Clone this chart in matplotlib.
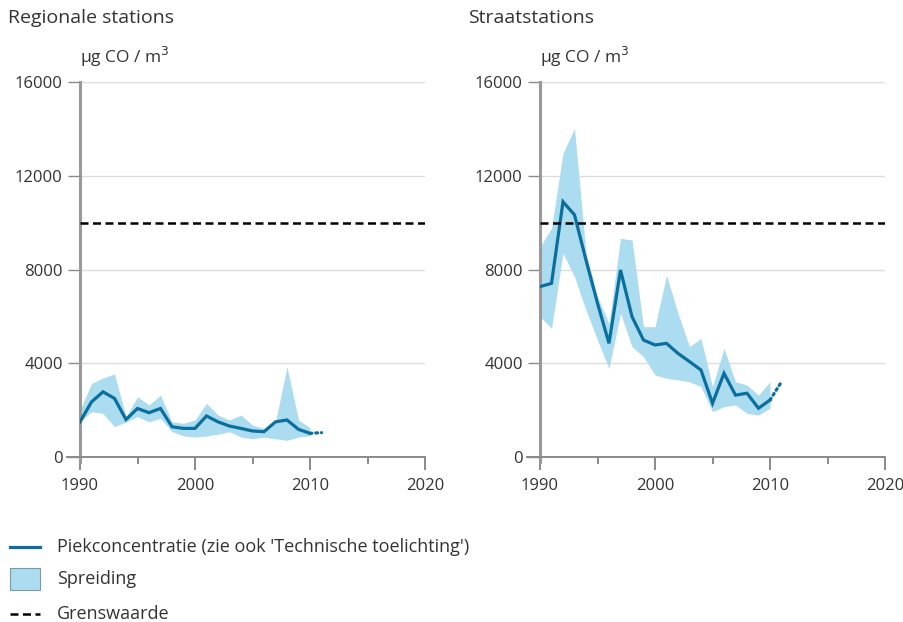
import numpy as np
import matplotlib.pyplot as plt
from matplotlib.lines import Line2D
from matplotlib.patches import Rectangle

plt.rcParams['font.family'] = ['Open Sans', 'DejaVu Sans']

# Jaren
jaren = np.arange(1990, 2011)

# Regionale stations (ug CO / m3)
regio_piek = [1500, 2350, 2780, 2500, 1600, 2070, 1890, 2070, 1290, 1220, 1220,
              1750, 1500, 1320, 1220, 1110, 1080, 1500, 1580, 1180, 1010]
regio_boven = [2000, 3140, 3370, 3540, 1720, 2570, 2220, 2640, 1500, 1440, 1580,
               2290, 1790, 1580, 1790, 1360, 1220, 1500, 3850, 1580, 1250]
regio_onder = [1500, 1930, 1860, 1290, 1500, 1720, 1500, 1650, 1080, 900, 850,
               900, 970, 1080, 850, 780, 850, 780, 710, 850, 900]
regio_extra = [1010, 1040]   # 2010 -> 2011, gestippeld

# Straatstations
straat_piek = [7270, 7410, 10890, 10330, 8400, 6560, 4850, 7980, 5990, 4990, 4780,
               4850, 4420, 4070, 3710, 2290, 3570, 2640, 2720, 2080, 2430]
straat_boven = [8970, 9760, 12960, 14020, 8700, 6840, 5700, 9330, 9260, 5560, 5560,
                7760, 6130, 4710, 5060, 3000, 4640, 3210, 3070, 2640, 3210]
straat_onder = [5990, 5490, 8690, 7690, 6270, 4990, 3780, 6130, 4710, 4280, 3500,
                3360, 3290, 3210, 3000, 1930, 2150, 2220, 1860, 1790, 2080]
straat_extra = [2430, 3210]

jaren_extra = [2010, 2011]
grenswaarde = 10000

lijn_kleur = '#0a6f9c'
band_kleur = '#abdcf0'
as_kleur = '#8a8a8a'
tekst_kleur = '#333333'

fig = plt.figure(figsize=(9.04, 6.22), dpi=100)

panelen = [
    (80 / 904, 'Regionale stations', regio_piek, regio_boven, regio_onder, regio_extra),
    (540 / 904, 'Straatstations', straat_piek, straat_boven, straat_onder, straat_extra),
]

for links, titel, piek, boven, onder, extra in panelen:
    ax = fig.add_axes([links, 165 / 622, 345 / 904, 375 / 622])

    ax.fill_between(jaren, onder, boven, color=band_kleur, lw=0, zorder=2)
    ax.plot(jaren, piek, color=lijn_kleur, lw=2.3, zorder=4, solid_joinstyle='miter')
    ax.plot(jaren_extra, extra, color=lijn_kleur, lw=2.3, ls=(0, (0.6, 1.2)),
            dash_capstyle='round', zorder=4)
    ax.axhline(grenswaarde, color='black', lw=1.8, ls=(0, (3.2, 1.8)), zorder=5)

    ax.set_xlim(1990, 2020)
    ax.set_ylim(0, 16000)
    ax.set_yticks(np.arange(0, 16001, 4000))
    ax.set_xticks([1990, 2000, 2010, 2020])
    ax.set_xticks([1995, 2005, 2015], minor=True)
    ax.grid(axis='y', color='#dddddd', lw=1, zorder=0)

    for kant in ['top', 'right', 'bottom']:
        ax.spines[kant].set_visible(False)
    ax.spines['left'].set_color('#999999')
    ax.spines['left'].set_linewidth(2.2)
    ax.spines['left'].set_bounds(-200, 16000)

    # x-as lijn, iets links van de y-as beginnend
    ax.plot([-0.038, 1], [0, 0], transform=ax.get_yaxis_transform(),
            color=as_kleur, lw=1.4, clip_on=False, zorder=6)

    ax.tick_params(axis='y', length=8.5, width=1, color=as_kleur, labelcolor=tekst_kleur,
                   labelsize=12, pad=4)
    ax.tick_params(axis='x', which='major', length=9, width=1.4, color=as_kleur,
                   labelcolor=tekst_kleur, labelsize=12, pad=6)
    ax.tick_params(axis='x', which='minor', length=5, width=1.4, color=as_kleur)

    ax.text(0.0, 1.035, 'µg CO / m$^3$', transform=ax.transAxes, fontsize=12.5,
            color=tekst_kleur, ha='left', va='bottom')
    fig.text(links - 72 / 904, 1 - 18 / 622, titel, fontsize=14, color=tekst_kleur,
             ha='left', va='center')

# Legenda
def fy(y):
    return 1 - y / 622

fig.add_artist(Line2D([10 / 904, 40 / 904], [fy(547), fy(547)], color=lijn_kleur, lw=2.3))
fig.add_artist(Rectangle((10 / 904, fy(590)), 30 / 904, 22 / 622, facecolor=band_kleur,
                         edgecolor='#7a9aa6', lw=0.8))
fig.add_artist(Line2D([10 / 904, 40 / 904], [fy(614), fy(614)], color='black', lw=1.8,
                      ls=(0, (3.2, 1.8))))
fig.text(57 / 904, fy(547), "Piekconcentratie (zie ook 'Technische toelichting')",
         fontsize=13, color=tekst_kleur, va='center')
fig.text(57 / 904, fy(579), 'Spreiding', fontsize=13, color=tekst_kleur, va='center')
fig.text(57 / 904, fy(614), 'Grenswaarde', fontsize=13, color=tekst_kleur, va='center')

fig.savefig('out.png', dpi=100)
